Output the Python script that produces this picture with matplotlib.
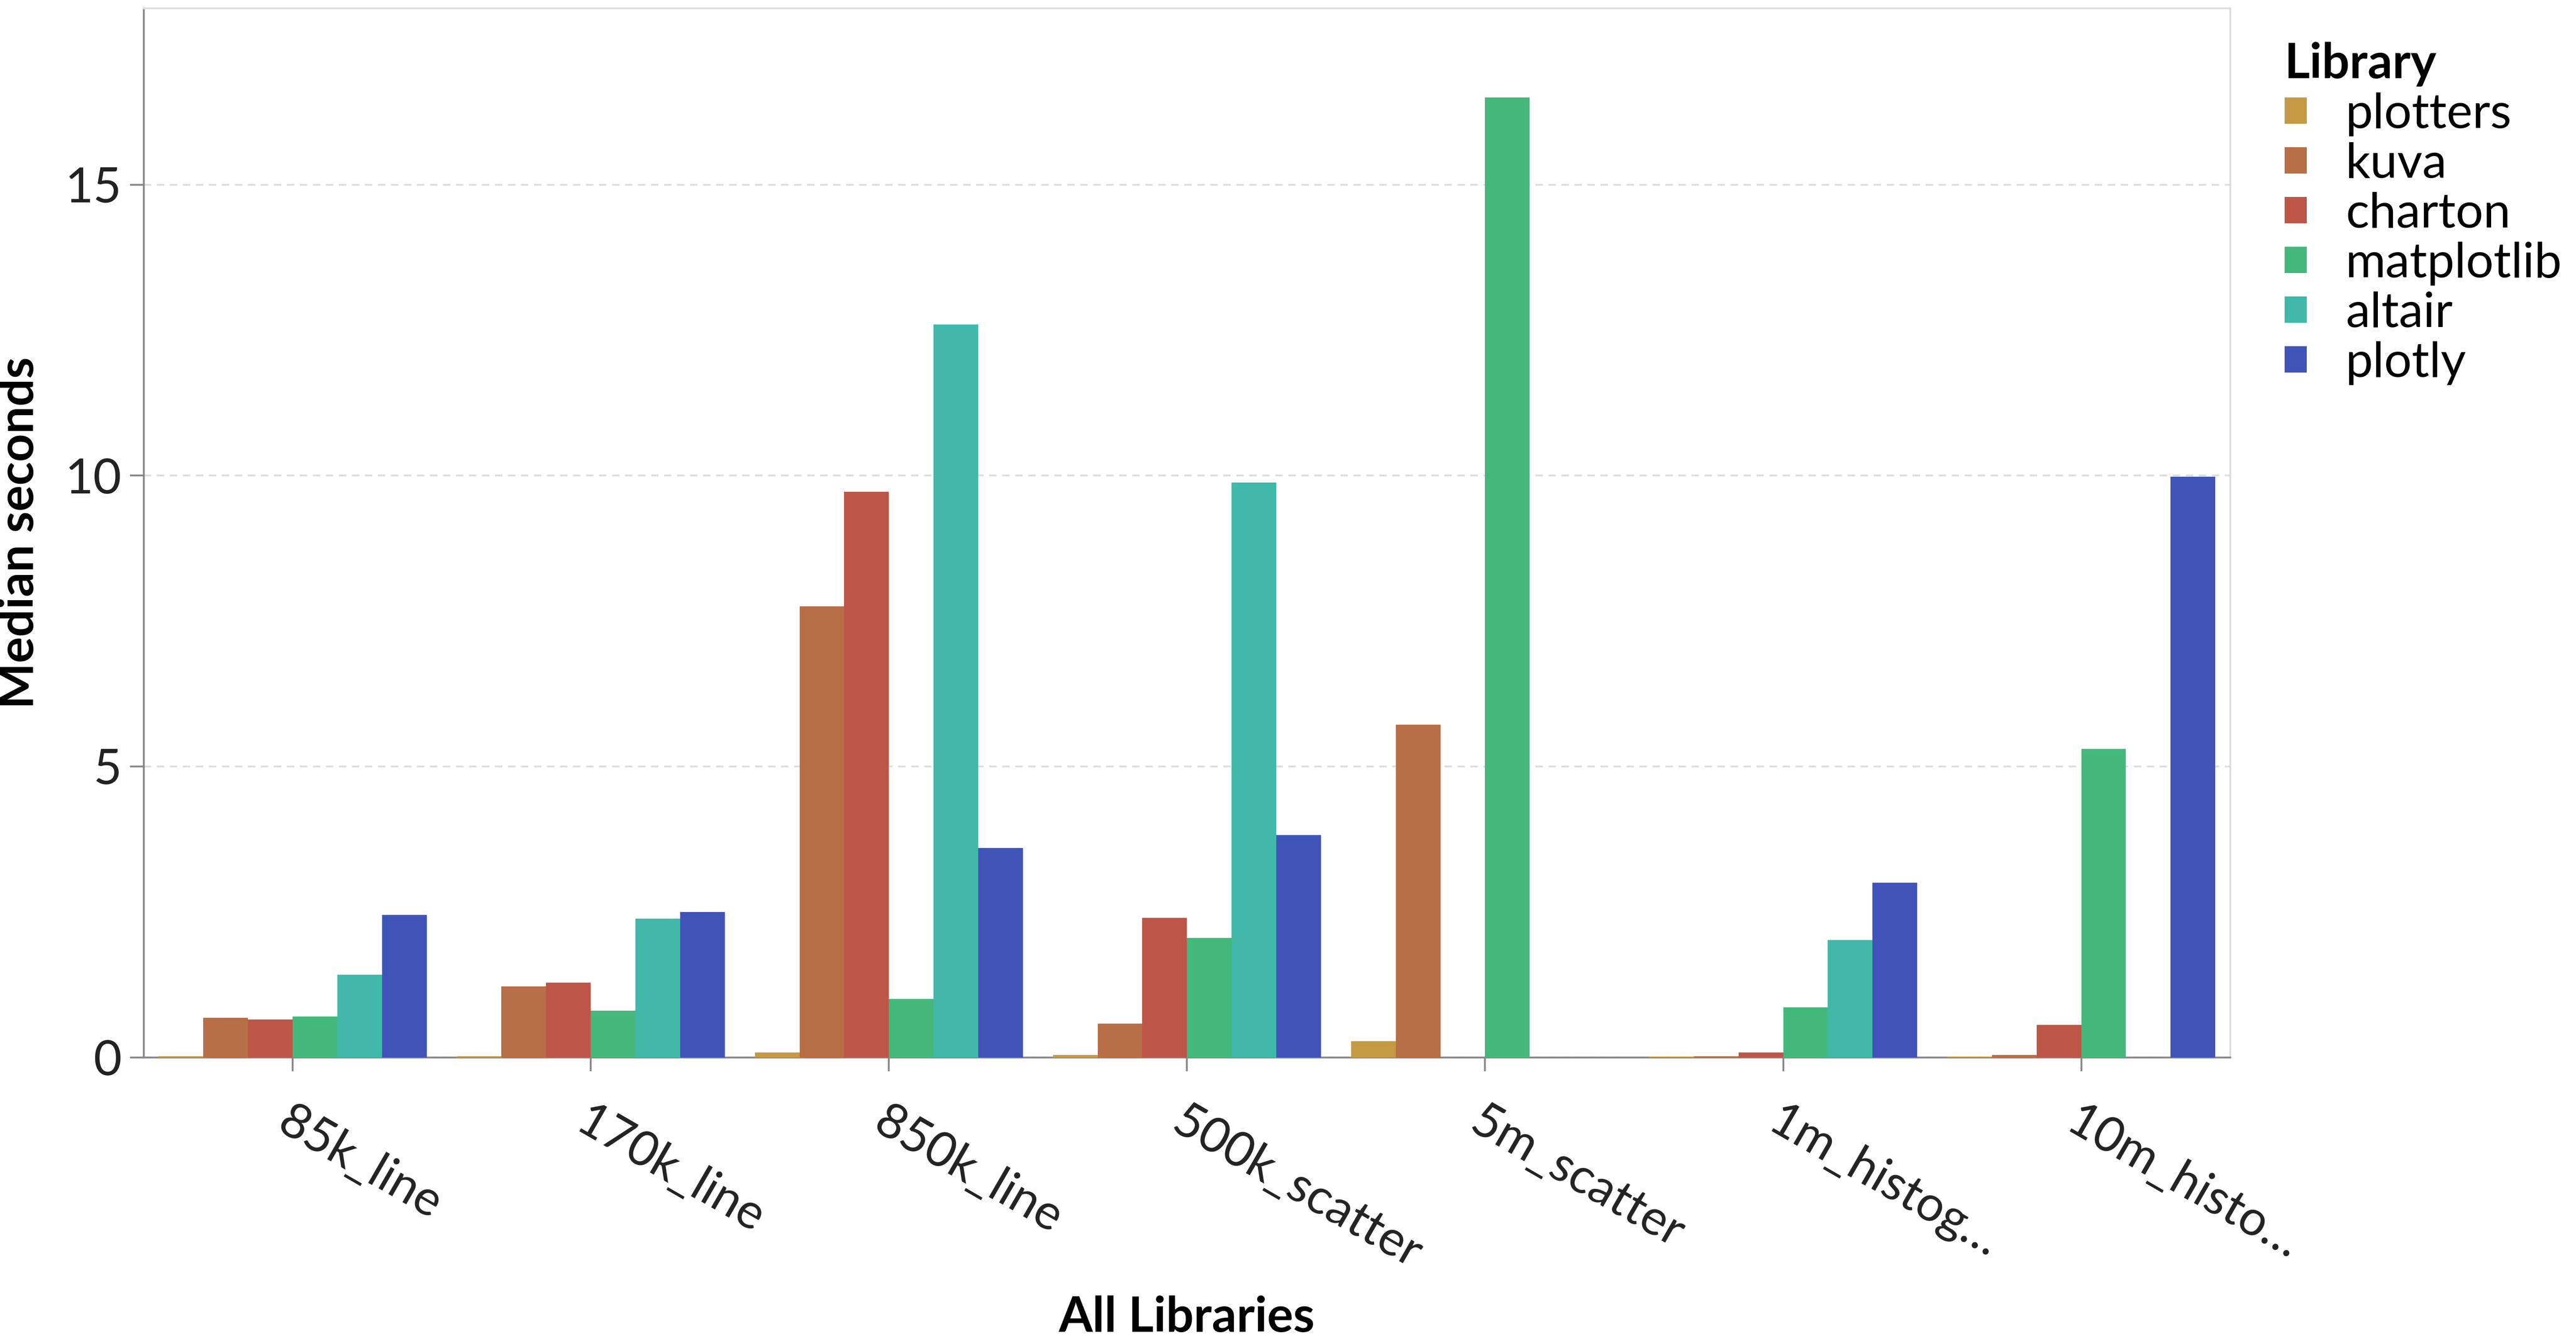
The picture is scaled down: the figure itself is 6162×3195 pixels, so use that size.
import numpy as np
import matplotlib
matplotlib.use("Agg")
import matplotlib.pyplot as plt

plt.rcParams['font.family'] = ['Lato', 'DejaVu Sans']

categories = ["85k_line", "170k_line", "850k_line", "500k_scatter", "5m_scatter", "1m_histog…", "10m_histo…"]
libraries = ["plotters", "kuva", "charton", "matplotlib", "altair", "plotly"]
colors = ["#C49A45", "#B86E46", "#BC5748", "#44B87B", "#41B8A9", "#4054B8"]
nan = np.nan
plotters = [0.02, 0.02, 0.08, 0.04, 0.28, 0.01, 0.01]
kuva = [0.68, 1.22, 7.75, 0.58, 5.72, 0.02, 0.04]
charton = [0.65, 1.28, 9.72, 2.40, nan, 0.08, 0.56]
matplotlib_v = [0.70, 0.80, 1.00, 2.05, 16.5, 0.86, 5.30]
altair = [1.42, 2.38, 12.6, 9.88, nan, 2.02, nan]
plotly = [2.45, 2.50, 3.60, 3.82, nan, 3.00, 9.98]
series = [plotters, kuva, charton, matplotlib_v, altair, plotly]

fig = plt.figure(figsize=(15.405, 7.9875), dpi=400)
ax = fig.add_axes([0.0558, 0.2086, 0.81, 0.785])
x = np.arange(len(categories))
w = 0.15
for i, (lib, vals, c) in enumerate(zip(libraries, series, colors)):
    ax.bar(x + (i - 2.5) * w, vals, width=w, color=c, label=lib, zorder=3)

ax.set_xlim(-0.5, len(categories) - 0.5)
ax.set_ylim(0, 18.03)
ax.set_yticks([0, 5, 10, 15])
ax.grid(axis='y', linestyle=(0, (4, 3)), color='#dddddd', linewidth=0.8, zorder=0)
ax.set_xticks(x)
ax.set_xticklabels(categories, rotation=-30, ha='left', rotation_mode='anchor', fontsize=21, color='#222222')
ax.tick_params(axis='y', labelsize=21, colors='#222222', length=6, color='#888888')
ax.tick_params(axis='x', length=6, color='#888888', pad=12)
for s in ['top', 'right']:
    ax.spines[s].set_color('#dddddd')
ax.spines['left'].set_color('#888888')
ax.spines['bottom'].set_color('#888888')
ax.set_xlabel("All Libraries", fontsize=21, fontweight='bold', labelpad=8)
ax.set_ylabel("Median seconds", fontsize=21, fontweight='bold', labelpad=10)

leg = ax.legend(title="Library", loc='upper left', bbox_to_anchor=(1.005, 1.01), frameon=False,
                fontsize=21, title_fontsize=21, handlelength=0.45, handleheight=0.45,
                handletextpad=0.8, labelspacing=0.12, alignment='left')
leg.get_title().set_fontweight('bold')

fig.savefig("out.png", dpi=400)
